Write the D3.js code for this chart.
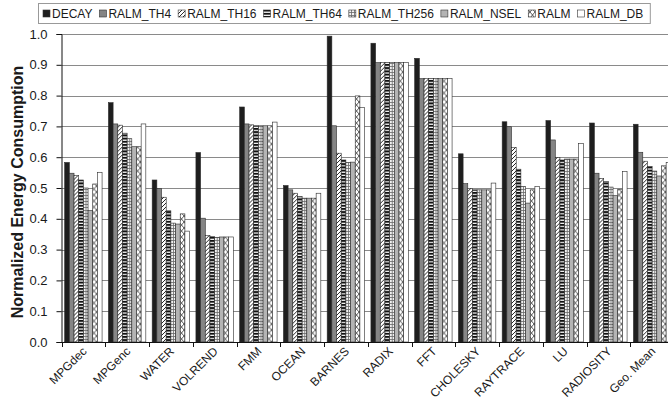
<!DOCTYPE html>
<html>
<head>
<meta charset="utf-8">
<script src="https://cdn.jsdelivr.net/npm/d3@7"></script>
<style>
  body { margin: 0; background: #fff; }
  text { font-family: "Liberation Sans", Arial, sans-serif; fill: #1a1a1a; }
</style>
</head>
<body>
<div class="chart"></div>
<script>
var categories = ["MPGdec", "MPGenc", "WATER", "VOLREND", "FMM", "OCEAN", "BARNES",
  "RADIX", "FFT", "CHOLESKY", "RAYTRACE", "LU", "RADIOSITY", "Geo. Mean"];
var seriesNames = ["DECAY", "RALM_TH4", "RALM_TH16", "RALM_TH64", "RALM_TH256",
  "RALM_NSEL", "RALM", "RALM_DB"];

var decay     = [0.583, 0.777, 0.526, 0.615, 0.763, 0.508, 0.993, 0.970, 0.921, 0.611, 0.715, 0.719, 0.711, 0.707];
var ralmTh4   = [0.548, 0.708, 0.498, 0.402, 0.708, 0.494, 0.702, 0.907, 0.855, 0.514, 0.699, 0.656, 0.548, 0.616];
var ralmTh16  = [0.540, 0.704, 0.470, 0.346, 0.705, 0.483, 0.613, 0.907, 0.855, 0.499, 0.632, 0.599, 0.531, 0.587];
var ralmTh64  = [0.526, 0.678, 0.426, 0.343, 0.702, 0.472, 0.591, 0.907, 0.855, 0.494, 0.561, 0.591, 0.521, 0.570];
var ralmTh256 = [0.500, 0.660, 0.386, 0.340, 0.702, 0.467, 0.583, 0.907, 0.855, 0.494, 0.505, 0.594, 0.503, 0.555];
var ralmNsel  = [0.427, 0.634, 0.383, 0.341, 0.702, 0.467, 0.584, 0.907, 0.855, 0.494, 0.451, 0.594, 0.475, 0.539];
var ralm      = [0.513, 0.634, 0.416, 0.341, 0.702, 0.467, 0.799, 0.907, 0.855, 0.494, 0.494, 0.594, 0.496, 0.572];
var ralmDb    = [0.551, 0.708, 0.360, 0.341, 0.714, 0.483, 0.762, 0.907, 0.855, 0.516, 0.505, 0.644, 0.553, 0.583];

var yTicks = [0, 0.1, 0.2, 0.3, 0.4, 0.5, 0.6, 0.7, 0.8, 0.9, 1.0];

var seriesValues = [decay, ralmTh4, ralmTh16, ralmTh64, ralmTh256, ralmNsel, ralm, ralmDb];
var fills = ["#1e1e1e", "#858585", "url(#p16)", "url(#p64)", "url(#p256)", "#b4b4b4", "url(#pralm)", "#ffffff"];

var W = 668, H = 407;
var plotLeft = 61.5, plotTop = 34, plotBottom = 342;

var svg = d3.select(".chart").append("svg")
    .attr("width", W)
    .attr("height", H);

// hatch patterns
var defs = svg.append("defs");

var p16 = defs.append("pattern").attr("id", "p16")
    .attr("patternUnits", "userSpaceOnUse").attr("width", 4).attr("height", 4);
p16.append("rect").attr("width", 4).attr("height", 4).attr("fill", "#fff");
p16.append("path").attr("d", "M-1,1 L1,-1 M0,4 L4,0 M3,5 L5,3")
    .attr("stroke", "#111").attr("stroke-width", 0.9);

var p64 = defs.append("pattern").attr("id", "p64")
    .attr("patternUnits", "userSpaceOnUse").attr("width", 4).attr("height", 3.2);
p64.append("rect").attr("width", 4).attr("height", 3.2).attr("fill", "#fff");
p64.append("rect").attr("width", 4).attr("height", 2).attr("fill", "#111");

var p256 = defs.append("pattern").attr("id", "p256")
    .attr("patternUnits", "userSpaceOnUse").attr("width", 3).attr("height", 3);
p256.append("rect").attr("width", 3).attr("height", 3).attr("fill", "#f2f2f2");
p256.append("path").attr("d", "M0,0.5 H3 M0.5,0 V3")
    .attr("stroke", "#6a6a6a").attr("stroke-width", 0.8);

var pralm = defs.append("pattern").attr("id", "pralm")
    .attr("patternUnits", "userSpaceOnUse").attr("width", 5).attr("height", 6);
pralm.append("rect").attr("width", 5).attr("height", 6).attr("fill", "#fff");
pralm.append("path").attr("d", "M0,0 L5,6 M5,0 L0,6")
    .attr("stroke", "#333").attr("stroke-width", 0.8);

var x0 = d3.scaleBand()
    .domain(categories)
    .range([plotLeft, plotLeft + 14 * 43.75]);

var x1 = d3.scaleBand()
    .domain(seriesNames)
    .range([0, x0.bandwidth()])
    .paddingOuter(0.68);

var y = d3.scaleLinear()
    .domain([0, 1])
    .range([plotBottom, plotTop]);

// gridlines
svg.append("g").attr("class", "grid")
  .selectAll("line")
    .data(yTicks.slice(1))
  .enter().append("line")
    .attr("x1", plotLeft).attr("x2", W)
    .attr("y1", function(d) { return Math.round(y(d)) + 0.5; })
    .attr("y2", function(d) { return Math.round(y(d)) + 0.5; })
    .attr("stroke", "#8a8a8a")
    .attr("stroke-width", 1);

// bars
var groups = svg.append("g").selectAll("g")
    .data(categories)
  .enter().append("g")
    .attr("transform", function(d) { return "translate(" + x0(d) + ",0)"; });

groups.selectAll("rect")
    .data(function(c, i) {
      return seriesNames.map(function(s, j) { return { s: s, j: j, v: seriesValues[j][i] }; });
    })
  .enter().append("rect")
    .attr("x", function(d) { return x1(d.s); })
    .attr("width", x1.bandwidth())
    .attr("y", function(d) { return y(d.v); })
    .attr("height", function(d) { return y(0) - y(d.v); })
    .attr("fill", function(d) { return fills[d.j]; })
    .attr("stroke", "#2a2a2a")
    .attr("stroke-width", 0.6);

// y axis
var yAxis = d3.axisLeft(y)
    .tickValues(yTicks)
    .tickFormat(d3.format(".1f"))
    .tickSize(5)
    .tickPadding(9);

var yg = svg.append("g")
    .attr("transform", "translate(" + plotLeft + ",0)")
    .call(yAxis);
yg.select(".domain").attr("stroke", "#111");
yg.selectAll(".tick line").attr("stroke", "#111");
yg.selectAll(".tick text")
    .style("font-size", "13px")
    .style("font-family", "'Liberation Sans', Arial, sans-serif")
    .attr("fill", "#1a1a1a");

// x axis line and boundary ticks
svg.append("line")
    .attr("x1", plotLeft).attr("x2", W)
    .attr("y1", plotBottom + 0.5).attr("y2", plotBottom + 0.5)
    .attr("stroke", "#111");

svg.append("g").selectAll("line")
    .data(categories)
  .enter().append("line")
    .attr("x1", function(d) { return Math.round(x0(d)) + 0.5; })
    .attr("x2", function(d) { return Math.round(x0(d)) + 0.5; })
    .attr("y1", plotBottom).attr("y2", plotBottom + 5)
    .attr("stroke", "#111");

svg.append("g").selectAll("text")
    .data(categories)
  .enter().append("text")
    .attr("transform", function(d) {
      return "translate(" + (x0(d) + x0.bandwidth() / 2 + 4) + "," + 352 + ") rotate(-45)";
    })
    .style("text-anchor", "end")
    .style("font-size", "12px")
    .text(function(d) { return d; });

// y label
svg.append("text")
    .attr("transform", "translate(23,192) rotate(-90)")
    .style("text-anchor", "middle")
    .style("font-size", "16px")
    .style("font-weight", "bold")
    .text("Normalized Energy Consumption");

// legend
var legend = svg.append("g");
var legendBox = legend.append("rect")
    .attr("y", 3.5).attr("height", 20)
    .attr("fill", "#fff")
    .attr("stroke", "#999");

var lx = 43;
seriesNames.forEach(function(s, j) {
  legend.append("rect")
    .attr("x", lx).attr("y", 10)
    .attr("width", 7).attr("height", 7)
    .attr("fill", fills[j])
    .attr("stroke", "#333")
    .attr("stroke-width", 0.6);
  var t = legend.append("text")
    .attr("x", lx + 9).attr("y", 18)
    .style("font-size", "12px")
    .text(s);
  lx += 9 + t.node().getComputedTextLength() + 7;
});
legendBox.attr("x", 38.5).attr("width", lx - 38.5);
</script>
</body>
</html>
